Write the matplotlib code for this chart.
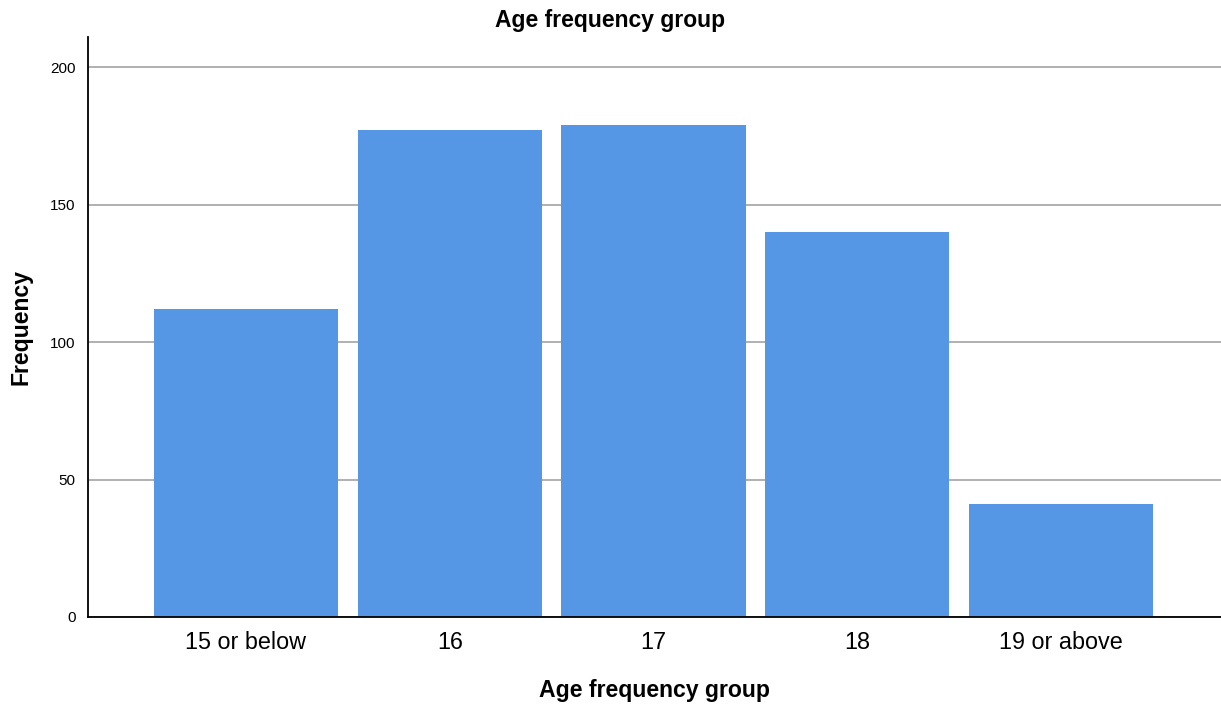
import matplotlib
matplotlib.use("Agg")
import matplotlib.pyplot as plt

plt.rcParams["font.family"] = ["Liberation Sans", "DejaVu Sans"]

# chart data
categories = ["15 or below", "16", "17", "18", "19 or above"]
frequencies = [112, 177, 179, 140, 41]
y_ticks = [0, 50, 100, 150, 200]

BAR_COLOR = "#5596e5"


def main():
    fig = plt.figure(figsize=(12.21, 7.06), dpi=100)
    ax = fig.add_axes([0.0721, 0.1261, 0.9279, 0.8215])

    x = list(range(len(categories)))
    ax.bar(x, frequencies, width=0.903, color=BAR_COLOR, zorder=3)

    ax.set_xlim(-0.775, 4.785)
    ax.set_ylim(0, 211)
    ax.set_yticks(y_ticks)
    ax.set_xticks(x)
    ax.set_xticklabels(categories, fontsize=16.8)
    ax.tick_params(axis="y", labelsize=11, length=0, pad=9)
    ax.tick_params(axis="x", length=0, pad=10)

    ax.grid(axis="y", color="#aaaaaa", linewidth=1.3, zorder=0)
    for side in ["top", "right"]:
        ax.spines[side].set_visible(False)
    for side in ["left", "bottom"]:
        ax.spines[side].set_linewidth(1.3)
        ax.spines[side].set_zorder(4)

    # title is centred on the whole figure, not the axes
    fig.text(0.5, 1 - 20 / 706, "Age frequency group", fontsize=16.5,
             fontweight="bold", ha="center", va="center")
    ax.set_xlabel("Age frequency group", fontsize=16.6, fontweight="bold", labelpad=18)
    ax.set_ylabel("Frequency", fontsize=16.6, fontweight="bold")
    ax.yaxis.set_label_coords(-0.049, 0.5)

    fig.savefig("out.png", dpi=100)


if __name__ == "__main__":
    main()
